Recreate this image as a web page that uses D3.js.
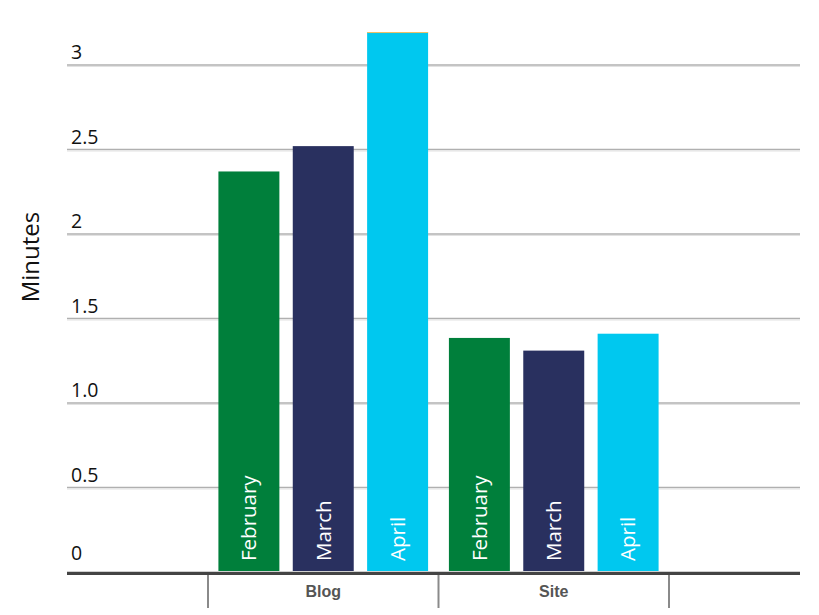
<!DOCTYPE html>
<html>
<head>
<meta charset="utf-8">
<script src="https://cdn.jsdelivr.net/npm/d3@7"></script>
<style>
html,body{margin:0;padding:0;background:#fff;}
svg{display:block;}
</style>
</head>
<body>
<svg id="chart" width="819" height="615"></svg>
<script>
const groups = ["Blog", "Site"];
const months = ["February", "March", "April"];
const blogValues = [2.37, 2.52, 3.195];
const siteValues = [1.385, 1.31, 1.41];
const yTicks = [0, 0.5, 1.0, 1.5, 2, 2.5, 3];
const yTickLabels = ["0", "0.5", "1.0", "1.5", "2", "2.5", "3"];
const colors = ["#007f3b", "#29305f", "#00c8ef"];
const yLabel = "Minutes";

const data = [blogValues, siteValues];

const svg = d3.select("#chart");
const plotLeft = 67, plotRight = 800, yBottom = 572, yTop = 65;

const y = d3.scaleLinear().domain([0, 3]).range([yBottom, yTop]);
const x0 = d3.scaleBand().domain(groups).range([208, 669]).padding(0);
const x1 = d3.scaleBand().domain(months).range([0, x0.bandwidth()]).paddingInner(0.18).paddingOuter(0.14);

// gridlines
const grid = svg.append("g");
yTicks.forEach((t, i) => {
  if (t === 0) return;
  grid.append("line")
    .attr("x1", plotLeft).attr("x2", plotRight)
    .attr("y1", y(t)).attr("y2", y(t))
    .attr("stroke", "#b0b0b0").attr("stroke-width", 1.5);
  grid.append("line")
    .attr("x1", plotLeft).attr("x2", plotRight)
    .attr("y1", y(t) + 1.5).attr("y2", y(t) + 1.5)
    .attr("stroke", "#e2e2e2").attr("stroke-width", 1);
});

// tick labels
svg.append("g").selectAll("text").data(yTicks).join("text")
  .attr("x", 71)
  .attr("y", d => y(d) - (d === 0 ? 12 : 6))
  .attr("font-family", "'Open Sans', sans-serif")
  .attr("font-size", 19.5)
  .attr("fill", "#111")
  .text((d, i) => yTickLabels[i]);

// y label
svg.append("text")
  .attr("transform", `translate(39,257) rotate(-90)`)
  .attr("text-anchor", "middle")
  .attr("font-family", "'Open Sans', sans-serif")
  .attr("font-size", 24)
  .attr("fill", "#111")
  .text(yLabel);

// bars
const gGroups = svg.append("g").selectAll("g").data(groups).join("g")
  .attr("transform", d => `translate(${x0(d)},0)`);

gGroups.each(function(g, gi) {
  const sel = d3.select(this);
  months.forEach((m, mi) => {
    const v = data[gi][mi];
    sel.append("rect")
      .attr("x", x1(m)).attr("width", x1.bandwidth())
      .attr("y", y(v)).attr("height", y(0) - y(v))
      .attr("fill", colors[mi]);
    if (gi === 0 && mi === 2) {
      sel.append("line")
        .attr("x1", x1(m)).attr("x2", x1(m) + x1.bandwidth())
        .attr("y1", y(v) + 0.5).attr("y2", y(v) + 0.5)
        .attr("stroke", "#f2c063").attr("stroke-width", 1);
    }
    sel.append("text")
      .attr("transform", `translate(${x1(m) + x1.bandwidth()/2},${y(0) - 11}) rotate(-90)`)
      .attr("dy", "0.36em")
      .attr("font-family", "'Open Sans', sans-serif")
      .attr("font-size", 20.5)
      .attr("fill", "#fff")
      .text(m);
  });
});

// baseline
svg.append("line")
  .attr("x1", plotLeft).attr("x2", plotRight)
  .attr("y1", y(0) - 0.5).attr("y2", y(0) - 0.5)
  .attr("stroke", "#d0d0d0").attr("stroke-width", 1);
svg.append("line")
  .attr("x1", plotLeft).attr("x2", plotRight)
  .attr("y1", y(0) + 1.5).attr("y2", y(0) + 1.5)
  .attr("stroke", "#444").attr("stroke-width", 3);

// category separators
const seps = groups.map(g => x0(g)).concat([x0(groups[groups.length-1]) + x0.bandwidth()]);
svg.append("g").selectAll("line").data(seps).join("line")
  .attr("x1", d => d).attr("x2", d => d)
  .attr("y1", y(0) + 3).attr("y2", 608)
  .attr("stroke", "#8a8a8a").attr("stroke-width", 2);

// category labels
svg.append("g").selectAll("text").data(groups).join("text")
  .attr("x", d => x0(d) + x0.bandwidth()/2)
  .attr("y", 597)
  .attr("text-anchor", "middle")
  .attr("font-family", "'Liberation Sans', Arial, sans-serif")
  .attr("font-size", 16)
  .attr("font-weight", "bold")
  .attr("fill", "#555")
  .text(d => d);
</script>
</body>
</html>
